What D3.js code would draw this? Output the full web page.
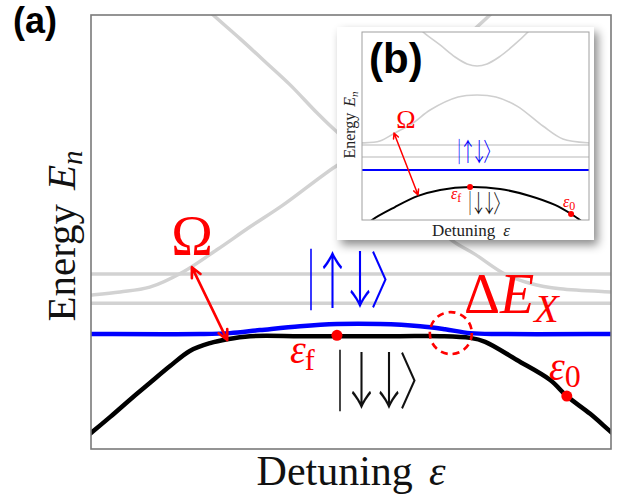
<!DOCTYPE html>
<html>
<head>
<meta charset="utf-8">
<script src="https://cdn.jsdelivr.net/npm/d3@7"></script>
<style>
  html, body { margin: 0; padding: 0; background: #fff; }
  svg { display: block; }
</style>
</head>
<body>
<svg id="chart" width="633" height="498"></svg>
<script>
// ---------------- Panel (a): energy levels vs detuning ----------------
// detuning and energy in arbitrary units (0..100 across the frame)
const mainGround = [[-2,1.8],[0,3.7],[3.7,7.4],[8.1,12.0],[11.3,15.2],[15.2,19.1],[19.0,22.6],[22.9,24.4],[26.2,25.3],[30.6,26.0],[40.2,26.0],[47.3,26.0],[59.4,26.0],[67.1,26.0],[72.9,25.6],[75.8,24.7],[81.9,20.5],[88.3,15.9],[91.5,12.2],[96.0,8.1],[100,3.9],[102,1.9]];
const mainExcited = [[-2,26.5],[0,26.5],[21.0,26.5],[26.7,26.7],[32.5,27.4],[40.2,28.3],[47.3,28.8],[55.6,28.8],[63.3,28.3],[68.1,27.6],[72.9,26.7],[78.7,26.5],[100,26.5],[102,26.5]];
const mainFlatLevels = [40.3, 33.6];
const mainLowerBranch = [[-2,35.3],[0,35.5],[5.6,36.2],[11.3,37.3],[17.7,40.8],[24.2,45.9],[30.6,51.2],[36.9,56.2],[46.9,65.0],[50.4,67.3],[55.6,63.1],[63.3,54.6],[69.6,47.9],[73.8,44.9],[79.6,40.3],[84.4,38.2],[90.2,36.9],[100,36.2],[102,36.1]];
const mainUpperBranch = [[21.0,102.8],[23.5,100],[28.7,94.5],[33.8,88.9],[38.3,83.9],[43.5,77.4],[46.9,73.5],[50.2,70.5],[53.7,73.5],[57.5,77.6],[63.3,84.6],[69.0,91.5],[76.7,100],[79.0,102.8]];
const mainRabiArrow = [[19.4,41.9],[26.2,25.1]];
const mainDots = [[47.3,26.2],[91.5,12.2]];
const mainAnticrossing = [69.2, 26.7];

// ---------------- Panel (b): inset ----------------
const insetGround = [[1.8,-3.2],[4.4,0],[14.5,6.9],[24.7,12.8],[34.4,16.0],[47.6,17.6],[60.8,16.5],[74.0,12.8],[85.0,8.0],[92.1,3.2],[96.0,0],[98.7,-3.2]];
const insetExcited = [[0,26.6],[100,26.6]];
const insetFlatLevels = [39.9, 33.5];
const insetLowerBranch = [[-1,41.0],[0,41.0],[7.9,42.0],[14.5,46.3],[22.5,51.6],[30.0,58.5],[42.3,65.4],[50.7,66.5],[59.0,65.4],[68.3,60.6],[79.7,50.0],[88.5,43.1],[100,41.0],[101,41.0]];
const insetUpperBranch = [[24.2,103.7],[26.9,100],[34.4,93.1],[41.0,86.7],[46.3,83.0],[50.7,81.9],[55.1,83.0],[60.4,86.7],[67.0,93.1],[73.1,100],[75.8,103.7]];
const insetRabiArrow = [[14.1,46.3],[24.7,13.3]];
const insetDots = [[47.6,17.6],[92.1,3.2]];

// state labels
const ketExcited = ["｜", "↑", "↓", "〉"];
const ketGround = ["｜", "↓", "↓", "〉"];

const RED = "#ff0000", BLUE = "#0000ff", GRAY = "#d2d2d2";
const SERIF = "'Liberation Serif', 'DejaVu Serif', serif";
const SANS = "'Liberation Sans', Arial, sans-serif";
const CJK = "'Noto Sans CJK JP', 'Noto Sans CJK SC', sans-serif";

const svg = d3.select("#chart");
const defs = svg.append("defs");

const shadow = defs.append("filter").attr("id", "insetShadow")
  .attr("x", "-20%").attr("y", "-20%").attr("width", "140%").attr("height", "140%");
shadow.append("feDropShadow").attr("dx", 4).attr("dy", 5).attr("stdDeviation", 5)
  .attr("flood-color", "#000").attr("flood-opacity", 0.45);

// main frame geometry
const M = { left: 91, top: 15, right: 611, bottom: 449 };
const x = d3.scaleLinear().domain([0, 100]).range([M.left, M.right]);
const y = d3.scaleLinear().domain([0, 100]).range([M.bottom, M.top]);

defs.append("clipPath").attr("id", "mainClip").append("rect")
  .attr("x", M.left).attr("y", M.top).attr("width", M.right - M.left).attr("height", M.bottom - M.top);

const lineMain = d3.line().x(d => x(d[0])).y(d => y(d[1])).curve(d3.curveCatmullRom.alpha(0.5));

const gMain = svg.append("g").attr("clip-path", "url(#mainClip)");

// faint levels
mainFlatLevels.forEach(e => {
  gMain.append("line").attr("x1", x(0)).attr("x2", x(100)).attr("y1", y(e)).attr("y2", y(e))
    .attr("stroke", GRAY).attr("stroke-width", 3.5);
});
[mainLowerBranch, mainUpperBranch].forEach(c => {
  gMain.append("path").datum(c).attr("d", lineMain).attr("fill", "none")
    .attr("stroke", GRAY).attr("stroke-width", 3.5);
});

gMain.append("path").datum(mainGround).attr("d", lineMain).attr("fill", "none")
  .attr("stroke", "#000").attr("stroke-width", 4.5);
gMain.append("path").datum(mainExcited).attr("d", lineMain).attr("fill", "none")
  .attr("stroke", BLUE).attr("stroke-width", 4.5);

// axes frame (no ticks)
svg.append("rect").attr("x", M.left).attr("y", M.top)
  .attr("width", M.right - M.left).attr("height", M.bottom - M.top)
  .attr("fill", "none").attr("stroke", "#7a7a7a").attr("stroke-width", 1.6);

// double-headed arrow helper
function doubleArrow(g, p0, p1, width, head) {
  const ang = Math.atan2(p1[1] - p0[1], p1[0] - p0[0]);
  const spread = 0.45;
  const headPath = (p, a) => {
    const a1 = a + Math.PI - spread, a2 = a + Math.PI + spread;
    return `M${p[0] + head * Math.cos(a1)},${p[1] + head * Math.sin(a1)}L${p[0]},${p[1]}L${p[0] + head * Math.cos(a2)},${p[1] + head * Math.sin(a2)}`;
  };
  g.append("path")
    .attr("d", `M${p0[0]},${p0[1]}L${p1[0]},${p1[1]}` + headPath(p1, ang) + headPath(p0, ang + Math.PI))
    .attr("fill", "none").attr("stroke", RED).attr("stroke-width", width)
    .attr("stroke-linecap", "round").attr("stroke-linejoin", "round");
}

// ket label: a single text, each character placed through the x list
function ket(g, barX, baseline, size, glyphs, color) {
  const sx = 0.75, sy = 1.1;
  const k = size / 56;
  const pos = [0, 21.5, 49, 80].map(v => (v * k / sx).toFixed(2));
  g.append("text")
    .attr("transform", `translate(${barX},${baseline}) scale(${sx},${sy})`)
    .attr("x", pos.join(" ")).attr("y", 0)
    .attr("text-anchor", "middle")
    .attr("font-family", CJK).attr("font-weight", 300)
    .attr("font-size", size).attr("fill", color)
    .text(glyphs.join(""));
}

doubleArrow(svg, [x(mainRabiArrow[0][0]), y(mainRabiArrow[0][1])],
  [x(mainRabiArrow[1][0]), y(mainRabiArrow[1][1])], 2.6, 11);

// anticrossing marker
svg.append("circle").attr("cx", x(mainAnticrossing[0])).attr("cy", y(mainAnticrossing[1])).attr("r", 21)
  .attr("fill", "none").attr("stroke", RED).attr("stroke-width", 2.6).attr("stroke-dasharray", "7,5");

svg.selectAll("circle.mdot").data(mainDots).enter().append("circle").attr("class", "mdot")
  .attr("cx", d => x(d[0])).attr("cy", d => y(d[1])).attr("r", 5.5).attr("fill", RED);

// labels of panel (a)
svg.append("text").attr("x", 13).attr("y", 33).attr("font-family", SANS).attr("font-weight", "bold")
  .attr("font-size", 36).text("(a)");

const yl = svg.append("text").attr("transform", "translate(75,236) rotate(-90)")
  .attr("text-anchor", "middle").attr("font-family", SERIF).attr("font-size", 41).attr("fill", "#111");
yl.append("tspan").text("Energy");
yl.append("tspan").attr("dx", 14).attr("font-style", "italic").text("E");
yl.append("tspan").attr("font-style", "italic").attr("font-size", 29).attr("dy", 7).text("n");

const xl = svg.append("text").attr("x", 351).attr("y", 485)
  .attr("text-anchor", "middle").attr("font-family", SERIF).attr("font-size", 42).attr("fill", "#111");
xl.append("tspan").text("Detuning");
xl.append("tspan").attr("dx", 16).attr("font-style", "italic").text("ε");

svg.append("text").attr("x", 192).attr("y", 255).attr("text-anchor", "middle")
  .attr("font-family", SERIF).attr("font-size", 56).attr("fill", RED).text("Ω");

ket(svg, 311, 303, 56, ketExcited, BLUE);
ket(svg, 340, 404, 56, ketGround, "#111");

const ef = svg.append("text").attr("x", 290).attr("y", 363).attr("font-family", SERIF)
  .attr("font-size", 40).attr("fill", RED);
ef.append("tspan").attr("font-style", "italic").text("ε");
ef.append("tspan").attr("font-size", 30).attr("dy", 7).attr("dx", -1).text("f");

const e0 = svg.append("text").attr("x", 549).attr("y", 380).attr("font-family", SERIF)
  .attr("font-size", 40).attr("fill", RED);
e0.append("tspan").attr("font-style", "italic").text("ε");
e0.append("tspan").attr("font-size", 32).attr("dy", 7).text("0");

const dex = svg.append("text").attr("x", 464).attr("y", 313).attr("font-family", SERIF)
  .attr("font-size", 56).attr("fill", RED);
dex.append("tspan").text("Δ");
dex.append("tspan").attr("font-style", "italic").text("E");
dex.append("tspan").attr("font-style", "italic").attr("font-size", 40).attr("dy", 9).text("X");

// ---------------- inset ----------------
const I = { left: 362, top: 32, right: 589, bottom: 220 };
svg.append("rect").attr("x", 337).attr("y", 27).attr("width", 257).attr("height", 213)
  .attr("fill", "#fff").attr("filter", "url(#insetShadow)");

const xi = d3.scaleLinear().domain([0, 100]).range([I.left, I.right]);
const yi = d3.scaleLinear().domain([0, 100]).range([I.bottom, I.top]);
const lineInset = d3.line().x(d => xi(d[0])).y(d => yi(d[1])).curve(d3.curveCatmullRom.alpha(0.5));

defs.append("clipPath").attr("id", "insetClip").append("rect")
  .attr("x", I.left).attr("y", I.top).attr("width", I.right - I.left).attr("height", I.bottom - I.top);
const gIn = svg.append("g").attr("clip-path", "url(#insetClip)");

insetFlatLevels.forEach(e => {
  gIn.append("line").attr("x1", xi(0)).attr("x2", xi(100)).attr("y1", yi(e)).attr("y2", yi(e))
    .attr("stroke", "#cfcfcf").attr("stroke-width", 1.6);
});
[insetLowerBranch, insetUpperBranch].forEach(c => {
  gIn.append("path").datum(c).attr("d", lineInset).attr("fill", "none")
    .attr("stroke", "#cfcfcf").attr("stroke-width", 1.6);
});
gIn.append("path").datum(insetExcited).attr("d", lineInset).attr("fill", "none")
  .attr("stroke", BLUE).attr("stroke-width", 2);
gIn.append("path").datum(insetGround).attr("d", lineInset).attr("fill", "none")
  .attr("stroke", "#000").attr("stroke-width", 2);

svg.append("rect").attr("x", I.left).attr("y", I.top)
  .attr("width", I.right - I.left).attr("height", I.bottom - I.top)
  .attr("fill", "none").attr("stroke", "#a0a0a0").attr("stroke-width", 1);

doubleArrow(svg, [xi(insetRabiArrow[0][0]), yi(insetRabiArrow[0][1])],
  [xi(insetRabiArrow[1][0]), yi(insetRabiArrow[1][1])], 1.5, 6);

svg.selectAll("circle.idot").data(insetDots).enter().append("circle").attr("class", "idot")
  .attr("cx", d => xi(d[0])).attr("cy", d => yi(d[1])).attr("r", 3).attr("fill", RED);

svg.append("text").attr("x", 369).attr("y", 73).attr("font-family", SANS).attr("font-weight", "bold")
  .attr("font-size", 42).text("(b)");

const yli = svg.append("text").attr("transform", "translate(355,125) rotate(-90)")
  .attr("text-anchor", "middle").attr("font-family", SERIF).attr("font-size", 16).attr("fill", "#222");
yli.append("tspan").text("Energy");
yli.append("tspan").attr("dx", 6).attr("font-style", "italic").text("E");
yli.append("tspan").attr("font-style", "italic").attr("font-size", 11).attr("dy", 3).text("n");

const xli = svg.append("text").attr("x", 471).attr("y", 236)
  .attr("text-anchor", "middle").attr("font-family", SERIF).attr("font-size", 17).attr("fill", "#222");
xli.append("tspan").text("Detuning");
xli.append("tspan").attr("dx", 8).attr("font-style", "italic").text("ε");

svg.append("text").attr("x", 406).attr("y", 128).attr("text-anchor", "middle")
  .attr("font-family", SERIF).attr("font-size", 26).attr("fill", RED).text("Ω");

ket(svg, 459, 161, 23, ketExcited, BLUE);
ket(svg, 470, 212, 22, ketGround, "#111");

const efi = svg.append("text").attr("x", 451).attr("y", 199).attr("font-family", SERIF)
  .attr("font-size", 16).attr("fill", RED);
efi.append("tspan").attr("font-style", "italic").text("ε");
efi.append("tspan").attr("font-size", 12).attr("dy", 3).text("f");

const e0i = svg.append("text").attr("x", 563).attr("y", 207).attr("font-family", SERIF)
  .attr("font-size", 16).attr("fill", RED);
e0i.append("tspan").attr("font-style", "italic").text("ε");
e0i.append("tspan").attr("font-size", 12).attr("dy", 3).text("0");
</script>
</body>
</html>
